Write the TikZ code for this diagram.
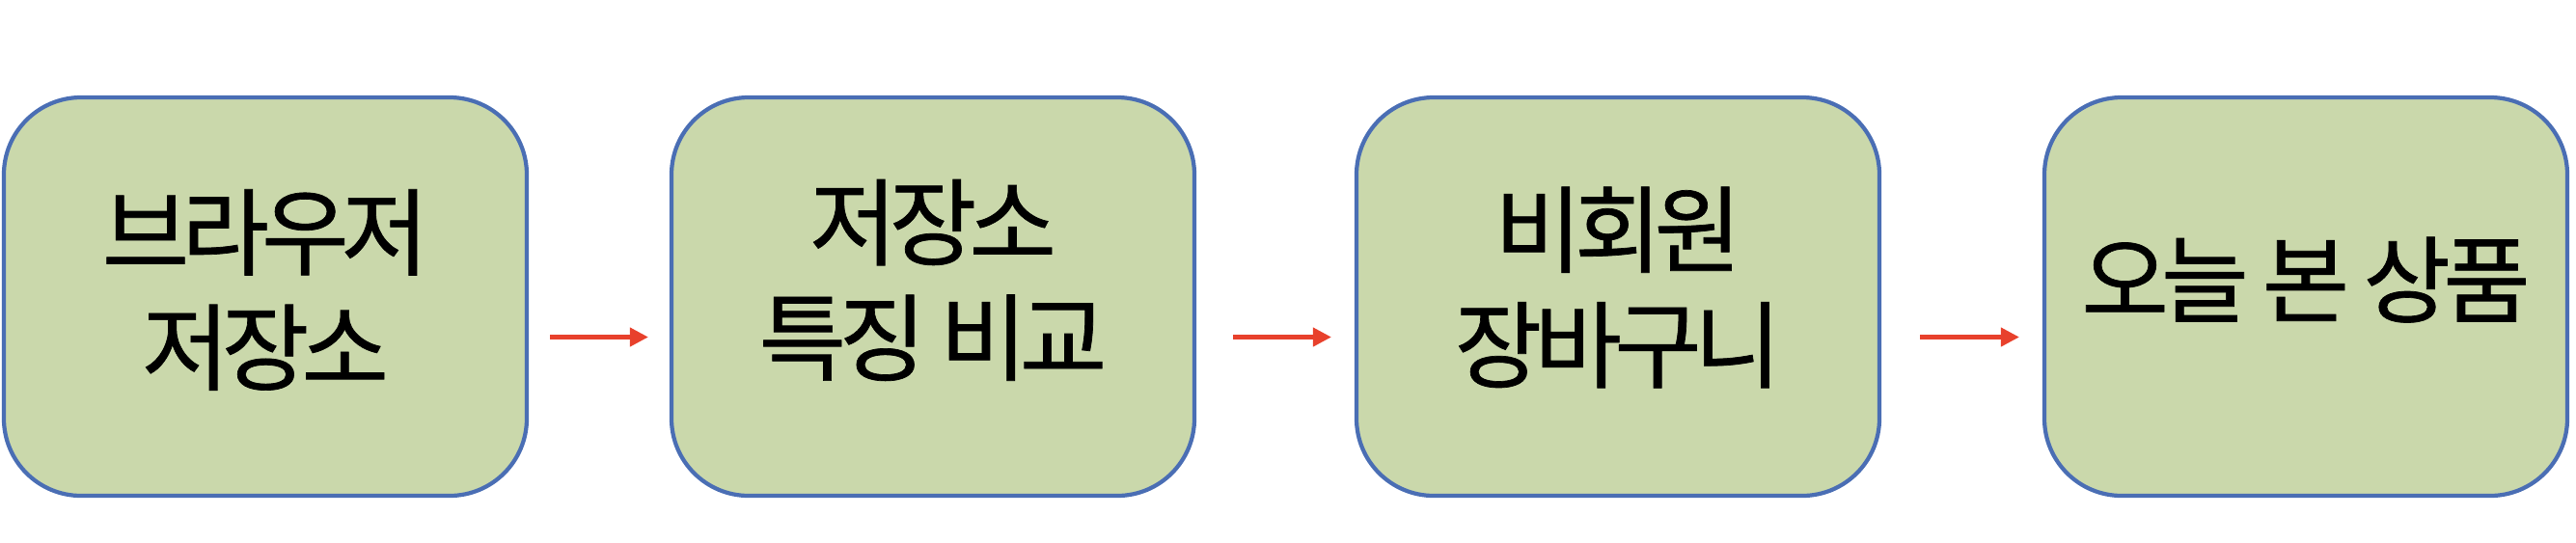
\documentclass[tikz,border=0pt]{standalone}
\usepackage{fontspec}
\setmainfont{Noto Sans CJK KR}[LetterSpace=-8, FakeBold=0.7]
\usetikzlibrary{arrows.meta}
\definecolor{boxfill}{HTML}{CAD8AB}
\definecolor{boxline}{HTML}{4A6EB4}
\definecolor{arrowred}{HTML}{E8412C}
\begin{document}
\begin{tikzpicture}[
  stage/.style={rectangle, draw=boxline, line width=1.2pt, rounded corners=0.8cm,
    fill=boxfill, minimum width=5.42cm, minimum height=4.13cm,
    font=\fontsize{28}{34}\selectfont, align=center, text depth=4pt},
  arrow/.style={-{Triangle[length=5.4pt, width=5.4pt]}, line width=1.2pt, arrowred}
]
  \useasboundingbox (0,0) rectangle (26.7,-5.62);

  % The four storage stages
  \node[stage, text height=55pt] (b1) at (2.75, -3.075) {브라우저\\저장소};
  \node[stage, text height=49.2pt] (b2) at (9.67, -3.075) {저장소\\특징 비교};
  \node[stage, text height=53.5pt] (b3) at (16.77, -3.075) {비회원\\장바구니};
  \node[stage, text height=15.1pt] (b4) at (23.90, -3.075) {오늘 본 상품};

  % Arrows between stages
  \draw[arrow, shorten <=0.22cm, shorten >=0.22cm] ([yshift=-0.42cm]b1.east) -- ([yshift=-0.42cm]b2.west);
  \draw[arrow, shorten <=0.38cm, shorten >=0.24cm] ([yshift=-0.42cm]b2.east) -- ([yshift=-0.42cm]b3.west);
  \draw[arrow, shorten <=0.40cm, shorten >=0.24cm] ([yshift=-0.42cm]b3.east) -- ([yshift=-0.42cm]b4.west);
\end{tikzpicture}
\end{document}
